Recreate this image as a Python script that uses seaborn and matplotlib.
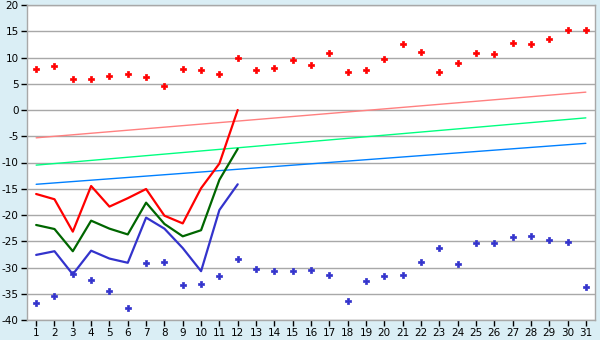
import matplotlib
matplotlib.use("Agg")
import matplotlib.pyplot as plt
import seaborn as sns
import pandas as pd
import numpy as np

days = list(range(1, 32))
line_days = list(range(1, 13))

# Daily max (red markers) and min (blue markers)
max_points = [7.75, 8.3, 6.0, 5.85, 6.4, 6.8, 6.2, 4.5, 7.75, 7.55, 6.8, 9.84,
              7.55, 7.94, 9.46, 8.5, 10.79, 7.17, 7.55, 9.65, 12.51, 10.98, 7.17,
              8.89, 10.79, 10.6, 12.7, 12.51, 13.46, 15.17, 15.17]
min_points = [-36.83, -35.5, -31.2, -32.45, -34.54, -37.78, -29.2, -29.0, -33.35,
              -33.15, -31.65, -28.42, -30.35, -30.73, -30.73, -30.54, -31.49, -36.44,
              -32.63, -31.68, -31.49, -29.0, -26.34, -29.39, -25.4, -25.4, -24.25,
              -24.06, -24.82, -25.14, -33.78]

# Lines for days 1-12
red_line = [-16.0, -17.0, -23.17, -14.48, -18.4, -16.8, -15.05, -20.13, -21.6, -14.9, -10.2, 0.0]
green_line = [-21.9, -22.67, -26.9, -21.08, -22.6, -23.7, -17.65, -21.7, -24.06, -22.9, -13.3, -7.4]
blue_line = [-27.6, -26.9, -31.3, -26.8, -28.3, -29.1, -20.5, -22.6, -26.3, -30.7, -19.05, -14.15]

# Straight reference lines (start day 1, end day 31)
trend_days = [1, 31]
pink_trend = [-5.3, 3.4]
lgreen_trend = [-10.5, -1.5]
lblue_trend = [-14.15, -6.35]

y_ticks = list(range(-40, 21, 5))

sns.set_theme(style="white")
plt.rcParams['font.family'] = ['DejaVu Sans']

fig = plt.figure(figsize=(6, 3.4), dpi=100, facecolor="#daeef5")
ax = fig.add_axes([27/600, 1 - 320/340, (595 - 27)/600, 315/340])
ax.set_facecolor("white")

grid_c = "#a8a8a8"
for y in y_ticks:
    ax.axhline(y, color=grid_c, lw=1.0, zorder=0)

trend_df = pd.DataFrame({"day": trend_days, "pink": pink_trend,
                         "lgreen": lgreen_trend, "lblue": lblue_trend})
sns.lineplot(data=trend_df, x="day", y="pink", color="#ff8080", lw=1.0, ax=ax)
sns.lineplot(data=trend_df, x="day", y="lgreen", color="#00ff80", lw=1.0, ax=ax)
sns.lineplot(data=trend_df, x="day", y="lblue", color="#0080ff", lw=1.0, ax=ax)

line_df = pd.DataFrame({"day": line_days, "red": red_line,
                        "green": green_line, "blue": blue_line})
sns.lineplot(data=line_df, x="day", y="blue", color="#3333cc", lw=1.6, ax=ax)
sns.lineplot(data=line_df, x="day", y="green", color="#006600", lw=1.6, ax=ax)
sns.lineplot(data=line_df, x="day", y="red", color="#ff0000", lw=1.6, ax=ax)

pts_df = pd.DataFrame({"day": days, "max": max_points, "min": min_points})
sns.scatterplot(data=pts_df, x="day", y="max", color="#ff0000", marker="P",
                s=20, linewidth=0.5, edgecolor="#ff0000", ax=ax, zorder=5)
sns.scatterplot(data=pts_df, x="day", y="min", color="#3333cc", marker="P",
                s=20, linewidth=0.5, edgecolor="#3333cc", ax=ax, zorder=5)

ax.set_xlim(0.5, 31.5)
ax.set_ylim(-40, 20)
ax.set_xticks(days)
ax.set_xticklabels([str(d) for d in days])
ax.set_yticks(y_ticks)
ax.set_yticklabels([str(y) for y in y_ticks])
ax.set_xlabel("")
ax.set_ylabel("")
ax.tick_params(axis="both", which="both", direction="out", length=4, width=1,
               color="#000000", labelsize=7.5, labelcolor="#000000", pad=2,
               bottom=True, left=True)
for s in ax.spines.values():
    s.set_color(grid_c)
    s.set_linewidth(1.0)
    s.set_visible(True)

fig.savefig("out.png", dpi=100, facecolor=fig.get_facecolor())
